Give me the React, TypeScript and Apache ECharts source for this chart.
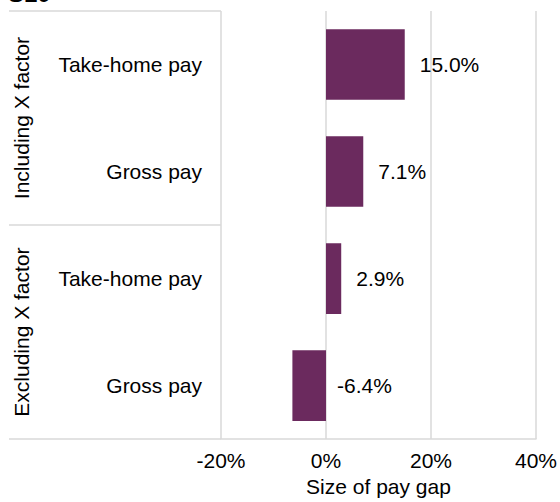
import React, { useEffect, useRef } from "react";
import * as echarts from "echarts";

const categories = ["Take-home pay", "Gross pay", "Take-home pay", "Gross pay"];
const groups = ["Including X factor", "Excluding X factor"];
const values = [15.0, 7.1, 2.9, -6.4];
const xTicks = [-20, 0, 20, 40];
const titleText = "S10";
const axisName = "Size of pay gap";

const FONT = "'Liberation Sans', Arial, sans-serif";
const GRID_COLOR = "#d9d9d9";
const BAR_COLOR = "#6b2a5e";

export default function App() {
  const ref = useRef<HTMLDivElement>(null);

  useEffect(() => {
    document.body.style.margin = "0";
    if (!ref.current) return;
    const chart = echarts.init(ref.current, undefined, { renderer: "svg" });
    const hiddenLine = { show: false, lineStyle: { color: "rgba(0,0,0,0)", width: 0 } };
    const option: any = {
      animation: false,
      textStyle: { fontFamily: FONT },
      graphic: [
        {
          type: "text",
          left: 8,
          top: -19,
          style: {
            text: titleText,
            fill: "#000",
            font: `bold 24px ${FONT}`,
          },
        },
      ],
      grid: { left: 221, right: 23, top: 11, bottom: 60.5, containLabel: false },
      xAxis: {
        type: "value",
        min: xTicks[0],
        max: xTicks[xTicks.length - 1],
        interval: 20,
        name: axisName,
        nameLocation: "middle",
        nameGap: 33,
        nameTextStyle: { fontSize: 21, color: "#000", fontFamily: FONT },
        axisLine: { show: true, lineStyle: { color: GRID_COLOR, width: 1.5 } },
        axisTick: { show: false },
        axisLabel: {
          fontSize: 21,
          color: "#000",
          margin: 11,
          fontFamily: FONT,
          formatter: (v: number) => `${v}%`,
        },
        splitLine: { show: true, lineStyle: { color: GRID_COLOR, width: 1.5 } },
      },
      yAxis: [
        {
          type: "category",
          data: categories,
          inverse: true,
          position: "left",
          axisLine: hiddenLine,
          axisTick: { show: false },
          splitLine: { show: false },
          axisLabel: { fontSize: 21, color: "#000", margin: 19, fontFamily: FONT, interval: 0 },
        },
        {
          type: "category",
          data: groups,
          inverse: true,
          position: "left",
          offset: 0,
          axisLine: hiddenLine,
          axisTick: {
            show: true,
            interval: 0,
            length: 212,
            lineStyle: { color: GRID_COLOR, width: 1.5 },
          },
          axisLabel: {
            fontSize: 21,
            color: "#000",
            rotate: 90,
            interval: 0,
            margin: 200,
            verticalAlign: "middle",
            fontFamily: FONT,
          },
          splitLine: { show: false },
        },
      ],
      series: [
        {
          type: "bar",
          yAxisIndex: 0,
          barCategoryGap: "34%",
          itemStyle: { color: BAR_COLOR },
          label: {
            show: true,
            position: "right",
            distance: 15,
            fontSize: 21,
            color: "#000",
            fontFamily: FONT,
            formatter: (p: any) => `${Number(p.value).toFixed(1)}%`,
          },
          data: values.map((v) =>
            v < 0 ? { value: v, label: { distance: 11 } } : { value: v }
          ),
        },
      ],
    };
    chart.setOption(option);
    return () => chart.dispose();
  }, []);

  return <div ref={ref} style={{ width: 560, height: 502 }} />;
}
